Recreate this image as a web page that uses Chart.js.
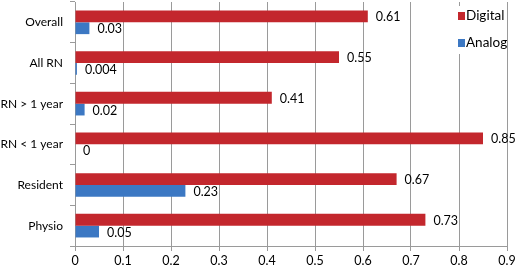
<!DOCTYPE html>
<html><head><meta charset="utf-8">
<script src="https://cdn.jsdelivr.net/npm/chart.js@4/dist/chart.umd.min.js"></script>
<style>html,body{margin:0;padding:0;background:#fff}#wrap{width:520px;height:268px}</style>
</head><body><div id="wrap"><canvas id="c" width="520" height="268"></canvas></div>
<script>
const categories = ["Overall", "All RN", "RN > 1 year", "RN < 1 year", "Resident", "Physio"];
const digital = [0.61, 0.55, 0.41, 0.85, 0.67, 0.73];
const analog = [0.03, 0.004, 0.02, 0, 0.23, 0.05];
const digitalLabels = ["0.61", "0.55", "0.41", "0.85", "0.67", "0.73"];
const analogLabels = ["0.03", "0.004", "0.02", "0", "0.23", "0.05"];
const xTicks = [0, 0.1, 0.2, 0.3, 0.4, 0.5, 0.6, 0.7, 0.8, 0.9];

const RED = '#C3272D', BLUE = '#3C78C3';
const FONT = 'Lato, "Open Sans", sans-serif';

const valueLabels = {
  id: 'valueLabels',
  afterDatasetsDraw(chart) {
    const ctx = chart.ctx;
    ctx.save();
    ctx.font = '12.5px ' + FONT;
    ctx.fillStyle = '#000';
    ctx.textBaseline = 'middle';
    ctx.textAlign = 'left';
    const lbls = [digitalLabels, analogLabels];
    chart.data.datasets.forEach((ds, di) => {
      chart.getDatasetMeta(di).data.forEach((bar, i) => {
        ctx.fillText(lbls[di][i], bar.x + 8, bar.y + 1);
      });
    });
    ctx.restore();
  }
};

const boxLegend = {
  id: 'boxLegend',
  afterDraw(chart) {
    const ctx = chart.ctx;
    const x = chart.scales.x.getPixelForValue(0.8) - 3;
    ctx.save();
    ctx.fillStyle = '#fff';
    ctx.fillRect(x, 6, 48, 48);
    ctx.font = '13.5px ' + FONT;
    ctx.textBaseline = 'middle';
    ctx.textAlign = 'left';
    chart.data.datasets.forEach((ds, i) => {
      const y = 16 + i * 27;
      ctx.fillStyle = ds.backgroundColor;
      ctx.fillRect(x + 2, y - 4, 7, 8);
      ctx.fillStyle = '#000';
      ctx.fillText(ds.label, x + 10, y);
    });
    ctx.restore();
  }
};

new Chart(document.getElementById('c'), {
  type: 'bar',
  data: {
    labels: categories,
    datasets: [
      { label: 'Digital', data: digital, backgroundColor: RED, borderWidth: 0 },
      { label: 'Analog', data: analog, backgroundColor: BLUE, borderWidth: 0 }
    ]
  },
  options: {
    indexAxis: 'y',
    responsive: false,
    animation: false,
    devicePixelRatio: 1,
    layout: { padding: { top: 2, right: 13, left: 0, bottom: 0 } },
    datasets: { bar: { categoryPercentage: 0.58, barPercentage: 1.0 } },
    plugins: { legend: { display: false }, tooltip: { enabled: false } },
    scales: {
      x: {
        min: 0, max: 0.9,
        afterBuildTicks(s) { s.ticks = xTicks.map(v => ({ value: v })); },
        afterFit(s) { s.height = 22; s.paddingRight = 0; },
        grid: { color: '#9a9a9a', lineWidth: 1, tickLength: 5, drawTicks: true },
        border: { display: true, color: '#9a9a9a' },
        ticks: { color: '#000', font: { family: FONT, size: 12.5 }, padding: 2, maxRotation: 0,
          callback: (v, i) => String(xTicks[i]) }
      },
      y: {
        afterFit(s) { s.width = 75; s.paddingTop = 0; s.paddingBottom = 0; },
        grid: { drawOnChartArea: false, offset: true, color: '#9a9a9a', tickLength: 5 },
        border: { display: true, color: '#9a9a9a' },
        ticks: { color: '#000', font: { family: FONT, size: 12 }, padding: 7 }
      }
    }
  },
  plugins: [valueLabels, boxLegend]
});
</script>
</body></html>
